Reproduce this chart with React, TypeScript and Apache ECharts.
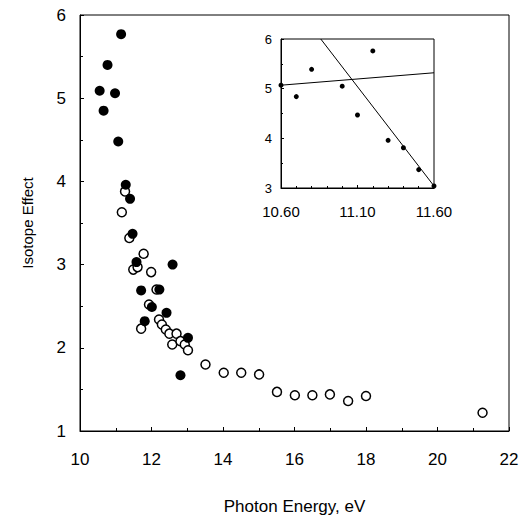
import React, { useEffect, useRef } from "react";
import * as echarts from "echarts";

// Main plot: filled circles
const filledX = [10.55, 10.66, 10.77, 10.98, 11.07, 11.15, 11.28, 11.40, 11.47, 11.58, 11.71, 11.81, 12.01, 12.22, 12.42, 12.59, 12.81, 13.02];
const filledY = [5.09, 4.85, 5.40, 5.06, 4.48, 5.77, 3.96, 3.79, 3.37, 3.03, 2.69, 2.32, 2.49, 2.70, 2.42, 3.00, 1.67, 2.12];

// Main plot: open circles
const openX = [11.17, 11.26, 11.38, 11.49, 11.61, 11.71, 11.78, 11.93, 11.99, 12.14, 12.21, 12.29, 12.40, 12.50, 12.58, 12.70, 12.81, 12.93, 13.02, 13.51, 14.02, 14.51, 15.01, 15.51, 16.01, 16.50, 16.99, 17.50, 18.00, 21.26];
const openY = [3.63, 3.88, 3.32, 2.94, 2.97, 2.23, 3.13, 2.52, 2.91, 2.70, 2.34, 2.28, 2.22, 2.17, 2.04, 2.17, 2.08, 2.04, 1.97, 1.80, 1.70, 1.70, 1.68, 1.47, 1.43, 1.43, 1.44, 1.36, 1.42, 1.22];

// Inset points
const insetX = [10.60, 10.70, 10.80, 11.00, 11.10, 11.20, 11.30, 11.40, 11.50, 11.60];
const insetY = [5.07, 4.84, 5.39, 5.05, 4.47, 5.76, 3.96, 3.81, 3.37, 3.04];

// Inset fit lines (endpoints)
const fitFlat = [[10.60, 5.07], [11.60, 5.32]];
const fitSteep = [[10.86, 6.0], [11.60, 3.04]];

const mainXTicks = { min: 10, max: 22, interval: 2 };
const mainYTicks = { min: 1, max: 6, interval: 1 };
const insetXTicks = { min: 10.6, max: 11.6, interval: 0.5 };
const insetYTicks = { min: 3, max: 6, interval: 1 };

const FONT = "Liberation Sans, Arial, sans-serif";
const INK = "#000";

export default function App() {
  const ref = useRef<HTMLDivElement>(null);
  useEffect(() => {
    if (!ref.current) return;
    const chart = echarts.init(ref.current, undefined, { renderer: "svg" });
    const zip = (xs: number[], ys: number[]) => xs.map((x, i) => [x, ys[i]]);
    const axisCommon = {
      axisLine: { lineStyle: { color: INK, width: 1 } },
      splitLine: { show: false },
    };
    chart.setOption({
      animation: false,
      backgroundColor: "#fff",
      grid: [
        { left: 80, top: 15, width: 429, height: 418, show: true, borderColor: INK, borderWidth: 1, backgroundColor: "transparent" },
        { left: 281, top: 39, width: 153, height: 149, show: true, borderColor: INK, borderWidth: 1, backgroundColor: "#fff" },
      ],
      xAxis: [
        {
          type: "value", gridIndex: 0, ...mainXTicks, ...axisCommon,
          name: "Photon Energy, eV", nameLocation: "middle", nameGap: 67,
          nameTextStyle: { fontFamily: FONT, fontSize: 17, color: INK, letterSpacing: 1.5 },
          axisTick: { inside: true, length: 4, lineStyle: { color: INK } },
          minorTick: { show: true, splitNumber: 2, length: 3, lineStyle: { color: INK } },
          axisLabel: { fontFamily: FONT, fontSize: 17, color: INK, margin: 20 },
        },
        {
          type: "value", gridIndex: 1, ...insetXTicks, ...axisCommon,
          axisTick: { inside: true, length: 3, lineStyle: { color: INK } },
          minorTick: { show: true, splitNumber: 5, length: 2, lineStyle: { color: INK } },
          axisLabel: { fontFamily: FONT, fontSize: 15, color: INK, margin: 16, letterSpacing: 1, formatter: (v: number) => v.toFixed(2) },
        },
      ],
      yAxis: [
        {
          type: "value", gridIndex: 0, ...mainYTicks, ...axisCommon,
          name: "Isotope Effect", nameLocation: "middle", nameGap: 45,
          nameTextStyle: { fontFamily: FONT, fontSize: 15, color: INK },
          axisTick: { inside: true, length: 4, lineStyle: { color: INK } },
          minorTick: { show: true, splitNumber: 2, length: 3, lineStyle: { color: INK } },
          axisLabel: { fontFamily: FONT, fontSize: 17, color: INK, margin: 14 },
        },
        {
          type: "value", gridIndex: 1, ...insetYTicks, ...axisCommon,
          axisTick: { inside: true, length: 3, lineStyle: { color: INK } },
          minorTick: { show: true, splitNumber: 2, length: 2, lineStyle: { color: INK } },
          axisLabel: { fontFamily: FONT, fontSize: 13, color: INK, margin: 9 },
        },
      ],
      series: [
        {
          type: "scatter", xAxisIndex: 0, yAxisIndex: 0, data: zip(openX, openY),
          symbol: "circle", symbolSize: 9,
          itemStyle: { color: "#fff", borderColor: INK, borderWidth: 1.5, opacity: 1 },
        },
        {
          type: "scatter", xAxisIndex: 0, yAxisIndex: 0, data: zip(filledX, filledY),
          symbol: "circle", symbolSize: 10,
          itemStyle: { color: INK, opacity: 1 },
        },
        {
          type: "line", xAxisIndex: 1, yAxisIndex: 1, data: fitFlat, showSymbol: false,
          lineStyle: { color: INK, width: 1 },
        },
        {
          type: "line", xAxisIndex: 1, yAxisIndex: 1, data: fitSteep, showSymbol: false,
          lineStyle: { color: INK, width: 1 },
        },
        {
          type: "scatter", xAxisIndex: 1, yAxisIndex: 1, data: zip(insetX, insetY),
          symbol: "circle", symbolSize: 5, itemStyle: { color: INK, opacity: 1 },
        },
      ],
    });
    return () => chart.dispose();
  }, []);
  return <div ref={ref} style={{ position: "absolute", left: 0, top: 0, width: 524, height: 520 }} />;
}
